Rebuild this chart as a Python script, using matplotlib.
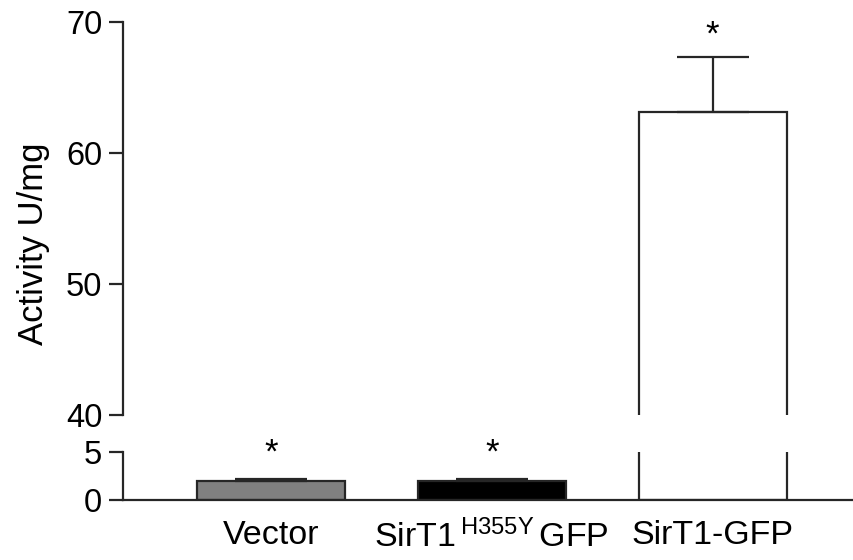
import numpy as np
import matplotlib.pyplot as plt

plt.rcParams['font.family'] = ['Liberation Sans', 'DejaVu Sans']
plt.rcParams['mathtext.fontset'] = 'custom'
plt.rcParams['mathtext.rm'] = 'Liberation Sans'
plt.rcParams['mathtext.it'] = 'Liberation Sans'

# Values
labels = ["Vector", r"SirT1$\,^{\mathrm{H355Y}}\,$GFP", "SirT1-GFP"]
activity = [2.0, 2.0, 63.1]
error = [0.2, 0.15, 4.2]
colors = ["#808080", "#000000", "#ffffff"]
stars = ["*", "*", "*"]

x = np.arange(len(labels))
width = 0.67
line_col = "#262626"
lw = 1.6

fig = plt.figure(figsize=(8.54, 5.6), dpi=100)
ax_top = fig.add_axes([0.144, 0.259, 0.856, 0.702])
ax_bot = fig.add_axes([0.144, 0.107, 0.856, 0.0857])

for ax in (ax_top, ax_bot):
    ax.bar(x, activity, width, color=colors, edgecolor=line_col, linewidth=lw,
           yerr=[np.zeros(3), error], capsize=26,
           error_kw=dict(ecolor=line_col, elinewidth=lw, capthick=lw))
    ax.set_xlim(-0.67, 2.64)
    for s in ("top", "right"):
        ax.spines[s].set_visible(False)
    ax.spines["left"].set_linewidth(lw)
    ax.spines["left"].set_color(line_col)
    ax.tick_params(axis="y", length=10, width=lw, color=line_col,
                   labelsize=23.5, pad=5)

ax_top.set_ylim(40, 70)
ax_top.set_yticks([40, 50, 60, 70])
ax_top.spines["bottom"].set_visible(False)
ax_top.set_xticks([])

ax_bot.set_ylim(0, 5)
ax_bot.set_yticks([0, 5])
ax_bot.spines["bottom"].set_linewidth(lw)
ax_bot.spines["bottom"].set_color(line_col)
ax_bot.set_xticks(x)
ax_bot.set_xticklabels(labels, fontsize=24.5)
ax_bot.tick_params(axis="x", length=0, pad=14)
ax_bot.spines["left"].set_bounds(0, 5)
ax_bot.spines["bottom"].set_bounds(-0.67, 2.64)

# significance marks
for i in range(2):
    ax_bot.text(x[i], 4.9, stars[i], ha="center", va="center", fontsize=25,
                clip_on=False)
ax_top.text(x[2], 69.0, stars[2], ha="center", va="center", fontsize=25,
            clip_on=False)

fig.text(0.039, 0.565, "Activity U/mg", rotation=90, ha="center", va="center",
         fontsize=25)

fig.savefig("out.png", dpi=100)
